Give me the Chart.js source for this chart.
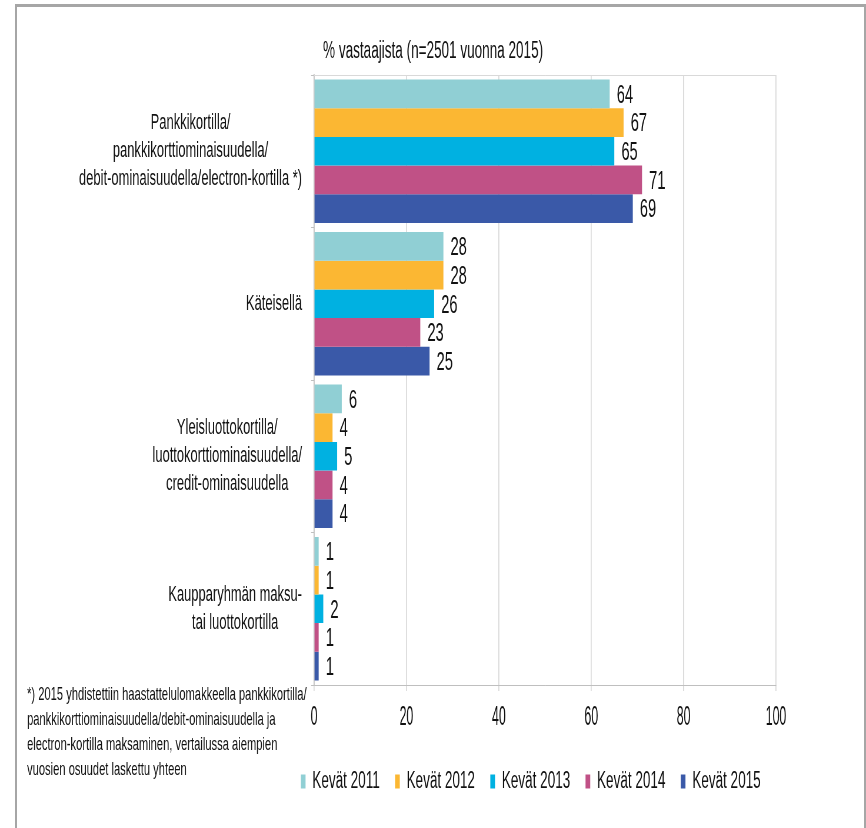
<!DOCTYPE html>
<html>
<head>
<meta charset="utf-8">
<script src="https://cdn.jsdelivr.net/npm/chart.js@4.4.1/dist/chart.umd.min.js"></script>
<style>
html,body{margin:0;padding:0;background:#fff;overflow:hidden;}
#wrap{position:relative;width:866px;height:828px;}
#frame{position:absolute;left:15px;top:4px;width:847px;height:840px;border-top:3px solid #a6a6a6;border-left:2px solid #a6a6a6;border-right:2px solid #a6a6a6;}
#c{position:absolute;left:0;top:0;}
</style>
</head>
<body>
<div id="wrap">
  <div id="frame"></div>
  <canvas id="c" width="1472" height="828" style="width:866px;height:828px"></canvas>
</div>
<script>
// narrow lettering: the canvas is drawn 1.7x wider and squeezed back to 866px
const SX = 1.7;
const FONT = '"Liberation Sans", Arial, sans-serif';

const categories = [
  ['Pankkikortilla/', 'pankkikorttiominaisuudella/', 'debit-ominaisuudella/electron-kortilla *)'],
  ['Käteisellä'],
  ['Yleisluottokortilla/', 'luottokorttiominaisuudella/', 'credit-ominaisuudella'],
  ['Kaupparyhmän maksu-', 'tai luottokortilla']
];
const seriesNames = ['Kevät 2011', 'Kevät 2012', 'Kevät 2013', 'Kevät 2014', 'Kevät 2015'];
const v2011 = [64, 28, 6, 1];
const v2012 = [67, 28, 4, 1];
const v2013 = [65, 26, 5, 2];
const v2014 = [71, 23, 4, 1];
const v2015 = [69, 25, 4, 1];
const colors = ['#90cfd4', '#fbb733', '#00b1e1', '#c05186', '#3a59a8'];
const xTicks = [0, 20, 40, 60, 80, 100];
const titleText = '% vastaajista (n=2501 vuonna 2015)';
const footnote = [
  '*) 2015 yhdistettiin haastattelulomakkeella pankkikortilla/',
  'pankkikorttiominaisuudella/debit-ominaisuudella ja',
  'electron-kortilla maksaminen, vertailussa aiempien',
  'vuosien osuudet laskettu yhteen'
];

const values = [v2011, v2012, v2013, v2014, v2015];

// fillText with an extra horizontal squeeze
function squeezed(ctx, s, x, y, fx){
  ctx.save(); ctx.translate(x, y); ctx.scale(fx, 1); ctx.fillText(s, 0, 0); ctx.restore();
}

// top edge of the plot box
const plotTop = {
  id: 'plotTop',
  beforeDatasetsDraw(chart){
    const {ctx, chartArea:a} = chart;
    ctx.save();
    ctx.strokeStyle = '#d9d9d9'; ctx.lineWidth = 1;
    ctx.beginPath(); ctx.moveTo(a.left, a.top + 0.5); ctx.lineTo(a.right, a.top + 0.5); ctx.stroke();
    ctx.restore();
  }
};

// numbers at the bar ends
const barValues = {
  id: 'barValues',
  afterDatasetsDraw(chart){
    const ctx = chart.ctx;
    ctx.save();
    ctx.font = '25px ' + FONT;
    ctx.fillStyle = '#111';
    ctx.textAlign = 'left'; ctx.textBaseline = 'middle';
    chart.data.datasets.forEach((ds, i) => {
      chart.getDatasetMeta(i).data.forEach((bar, j) => {
        ctx.fillText(String(ds.data[j]), bar.x + 12, bar.y + 2);
      });
    });
    ctx.restore();
  }
};

// title, x tick numbers, wrapped category names, footnote
const texts = {
  id: 'texts',
  afterDraw(chart){
    const ctx = chart.ctx, x = chart.scales.x, y = chart.scales.y;
    ctx.save();
    ctx.fillStyle = '#111';
    ctx.textBaseline = 'middle';
    ctx.textAlign = 'center';

    ctx.font = '23px ' + FONT;
    ctx.fillText(titleText, 433 * SX, 52);

    ctx.font = '27px ' + FONT;
    xTicks.forEach(v => squeezed(ctx, String(v), x.getPixelForValue(v), x.bottom - 59 + 33, 0.78));

    // each block sits against the axis, its lines centred inside it
    const right = 302 * SX, lh = 28;
    ctx.font = '22px ' + FONT;
    categories.forEach((lines, i) => {
      const w = Math.max(...lines.map(l => ctx.measureText(l).width));
      const cx = right - w / 2;
      const cy = y.getPixelForValue(i);
      lines.forEach((l, k) => ctx.fillText(l, cx, cy + (k - (lines.length - 1) / 2) * lh));
    });

    ctx.font = '19px ' + FONT;
    ctx.textAlign = 'left';
    footnote.forEach((l, k) => ctx.fillText(l, 27 * SX, 695 + k * 25));
    ctx.restore();
  }
};

new Chart(document.getElementById('c'), {
  type: 'bar',
  data: {
    labels: categories,
    datasets: seriesNames.map((name, i) => ({
      label: name,
      data: values[i],
      backgroundColor: colors[i],
      borderWidth: 0,
      categoryPercentage: 0.94,
      barPercentage: 1.0
    }))
  },
  options: {
    indexAxis: 'y',
    responsive: false,
    devicePixelRatio: 1,
    animation: false,
    layout: { padding: { left: 0, right: 153, top: 75, bottom: 25 } },
    plugins: {
      title: { display: false },
      legend: {
        position: 'bottom', align: 'end',
        labels: {
          boxWidth: 8, boxHeight: 14, padding: 26, color: '#111',
          font: { family: FONT, size: 23 }
        }
      },
      tooltip: { enabled: false }
    },
    scales: {
      x: {
        min: 0, max: 100,
        afterBuildTicks: s => { s.ticks = xTicks.map(v => ({ value: v })); },
        ticks: { color: 'rgba(0,0,0,0)', font: { family: FONT, size: 24 }, padding: 10 },
        grid: { color: '#d9d9d9', lineWidth: SX, tickLength: 6, tickColor: '#d9d9d9' },
        border: { color: '#bfbfbf', width: 1 },
        afterFit: s => { s.height = 59; }
      },
      y: {
        ticks: { display: false },
        grid: { drawOnChartArea: false, tickLength: 5, color: '#bfbfbf', lineWidth: 1 },
        border: { color: '#bfbfbf', width: SX },
        afterFit: s => { s.width = 314 * SX; }
      }
    }
  },
  plugins: [plotTop, barValues, texts]
});
</script>
</body>
</html>
